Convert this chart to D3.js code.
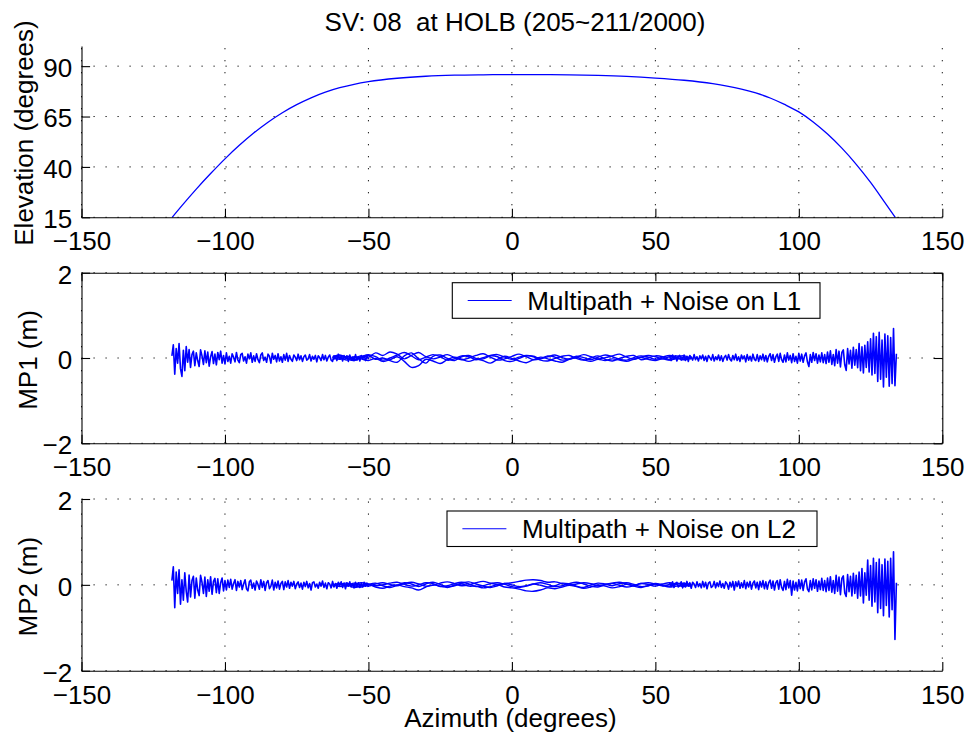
<!DOCTYPE html>
<html>
<head>
<meta charset="utf-8">
<script src="https://cdn.jsdelivr.net/npm/d3@7"></script>
<style>
  body { margin: 0; background: #fff; }
  svg { font-family: "Liberation Sans", Arial, Helvetica, sans-serif; }
</style>
</head>
<body>
<script>
const xTicks = [-150, -100, -50, 0, 50, 100, 150];
const elTicks = [15, 40, 65, 90];
const mpTicks = [-2, 0, 2];

// elevation vs azimuth
const elAz = [-118.4, -115, -110, -105, -100, -95, -90, -85, -80, -75, -70, -65, -60, -55, -50, -40, -30, -20, -10, 0,
              10, 20, 30, 40, 50, 60, 70, 75, 80, 85, 90, 95, 100, 105, 110, 115, 120, 125, 130, 133.6];
const elDeg = [15, 20.8, 29, 36.7, 44, 50.7, 56.8, 62.2, 66.9, 70.9, 74.3, 77.1, 79.3, 81, 82.3, 84, 85, 85.5, 85.7, 85.8,
               85.8, 85.7, 85.4, 84.9, 84.1, 83, 81.3, 80.1, 78.6, 76.7, 74.2, 71, 67.3, 62.3, 56.3, 49.3, 41.3, 32.3, 22.3, 15];

// MP1: noisy arc ends (0.5 deg samples) and the overlapping daily passes (2.5 deg samples)
const mp1Left = [0.05, 0.31, -0.38, 0.22, -0.12, 0.34, -0.25, -0.43, 0.18, -0.3, 0.27, -0.1,
  0.2, -0.22, 0.08, 0.16, -0.18, 0.12, -0.06, -0.2, 0.19, 0.05, -0.15, 0.17, -0.11, 0.14, -0.19, 0.03,
  0.15, -0.13, 0.09, -0.16, 0.13, -0.04, 0.16, -0.12, 0.06, -0.14,
  0.12, -0.08, 0.04, -0.12, 0.1, 0.02, -0.09, 0.13, -0.05, -0.11,
  0.08, 0.11, -0.07, 0.03, -0.12, 0.09, -0.02, 0.12, -0.1, 0.05,
  -0.08, 0.1, -0.04, -0.11, 0.07, 0.12, -0.06, 0.02, -0.1, 0.09,
  0.04, -0.12, 0.11, -0.03, 0.06, -0.09, 0.1, -0.07, 0.03, -0.1,
  0.08, -0.05, 0.11, -0.08,
  0.06, -0.03, -0.08, 0.07, 0.02, -0.06, 0.09, -0.04, 0.05, -0.08,
  0.03, 0.07, -0.05, -0.02, 0.08, -0.07, 0.04, -0.03, 0.06, -0.09,
  0.05, 0.01, -0.06, 0.08, -0.04, 0.06, -0.07, 0.02, 0.07, -0.05,
  -0.08, 0.05, 0.03, -0.06, 0.09, -0.03, 0.04, -0.07, 0.06, -0.02,
  0.05, -0.08, 0.07, -0.04, 0.02, -0.06, 0.08, -0.05, 0.03, -0.07,
  0.06, -0.03, 0.05, -0.06, 0.04, -0.02];
const mp1Right = [0.04, -0.06, 0.07, -0.02, 0.05, -0.07, 0.03, 0.06, -0.05, -0.03,
  0.07, -0.06, 0.04, -0.08, 0.06, 0.02, -0.05, 0.08, -0.04, 0.03,
  -0.07, 0.05, -0.02, 0.07, -0.06, 0.04, -0.08, 0.06, 0.01, -0.05,
  0.08, -0.07, 0.03, -0.04, 0.07, -0.06, 0.05, -0.08, 0.02, 0.06,
  -0.05, 0.08, -0.03, -0.07, 0.06, -0.04, 0.09, -0.06, 0.03, -0.08,
  0.07, -0.02, 0.05, -0.09, 0.08, -0.05, 0.04, -0.07, 0.09, -0.03,
  -0.06, 0.08, -0.08, 0.05, -0.04, 0.09, -0.07, 0.06, -0.09, 0.04,
  0.1, -0.06, 0.08, -0.1, 0.03, 0.09, -0.08, 0.11, -0.04, -0.1,
  0.07, -0.09, 0.12, -0.05, 0.06, -0.11, 0.1, -0.08, 0.04, -0.12,
  0.11, -0.07, 0.09, -0.1, 0.05, 0.12, -0.09, -0.2, 0.08, -0.1,
  0.13, -0.06, 0.1, -0.12, 0.07, -0.09, 0.12, -0.11, 0.08, -0.13,
  0.14, -0.1, 0.17, -0.15, 0.08, -0.18, 0.2, -0.12, 0.16, -0.21,
  0.13, 0.19, -0.16, -0.29, 0.22, -0.14, 0.18, -0.24, 0.25, -0.17, 0.2, -0.23,
  0.34, -0.3, 0.26, -0.35, 0.3, -0.22, 0.38, -0.33, 0.45, -0.4,
  0.58, -0.36, 0.5, -0.55, 0.6, -0.5, 0.42, -0.68, 0.56, -0.45,
  0.52, -0.66, 0.48, -0.6, 0.69, -0.65, 0.1];
const mp1PassA = [0.02, -0.03, 0.04, 0.0, 0.05, 0.02, 0.12, 0.06, 0.14, 0.09,
  -0.02, 0.06, 0.13, 0.03, -0.02, 0.02, 0.08, 0.01, -0.04, 0.0,
  0.06, 0.1, 0.02, -0.05, -0.02, 0.04, 0.09, 0.03, -0.04, -0.02,
  0.03, 0.07, 0.01, -0.03, 0.02, 0.08, 0.03, -0.02, 0.01, 0.05,
  0.09, 0.02, -0.03, 0.02, 0.06, 0.03, -0.02, 0.03, 0.05, 0.0, 0.04];
const mp1PassB = [-0.04, 0.01, -0.05, 0.03, -0.02, -0.06, -0.01, -0.08, -0.04, 0.03,
  -0.08, -0.22, -0.18, -0.03, -0.07, -0.13, -0.04, 0.02, -0.03, -0.08,
  -0.03, -0.06, -0.12, -0.03, 0.04, -0.01, -0.07, -0.11, -0.04, 0.02,
  -0.02, -0.07, -0.1, -0.03, 0.01, -0.04, -0.08, -0.03, -0.06, -0.02,
  -0.05, -0.08, -0.03, 0.01, -0.03, -0.06, -0.02, -0.05, -0.01, -0.04, 0.0];
const mp1PassC = [0.0, 0.05, -0.02, -0.06, 0.01, 0.06, -0.03, 0.0, -0.06, -0.1,
  0.05, 0.12, -0.02, -0.12, 0.04, 0.07, -0.01, -0.06, 0.03, 0.06,
  -0.01, -0.02, 0.05, 0.03, -0.06, -0.08, -0.01, 0.05, 0.03, -0.05,
  -0.07, -0.01, 0.04, 0.06, -0.01, -0.05, 0.0, 0.05, -0.03, -0.07,
  -0.01, 0.04, 0.06, -0.04, 0.0, 0.05, 0.03, -0.04, 0.02, 0.05, -0.03];
const mp1PassD = [0.03, 0.07, 0.01, -0.04, 0.03, 0.08, 0.03, -0.05, 0.0, 0.07,
  0.13, 0.05, -0.04, 0.02, 0.08, 0.03, -0.05, -0.02, 0.05, 0.03,
  -0.04, 0.01, 0.06, 0.08, 0.02, -0.03, 0.02, 0.06, 0.04, -0.01,
  0.05, 0.02, -0.05, -0.02, 0.04, 0.01, -0.04, 0.02, 0.07, 0.03,
  -0.03, -0.05, 0.01, 0.05, 0.02, -0.03, 0.02, 0.06, 0.01, -0.03, 0.02];

// MP2, same sampling
const mp2Left = [0.1, 0.42, -0.53, 0.3, -0.2, 0.35, -0.45, 0.12, -0.36, 0.28, -0.15, -0.4,
  0.23, -0.28, 0.1, 0.2, -0.31, 0.16, -0.12, -0.25, 0.22, 0.06, -0.2, 0.18, -0.27, 0.12, -0.15, 0.19,
  -0.22, 0.08, 0.15, -0.18, 0.14, -0.2, 0.05, 0.16, -0.14, 0.1,
  -0.12, 0.11, -0.06, 0.13, -0.1, 0.03, 0.12, -0.13, 0.08, -0.05,
  0.1, -0.11, 0.02, 0.12, -0.09, -0.14, 0.07, 0.11, -0.08, 0.04,
  -0.12, 0.09, 0.01, -0.1, 0.12, -0.06, 0.08, -0.13, 0.05, 0.1,
  -0.09, -0.03, 0.11, -0.12, 0.06, -0.07, 0.09, -0.1, 0.03, 0.08,
  -0.11, 0.07, -0.05, 0.1,
  -0.08, 0.06, -0.03, 0.08, -0.09, 0.02, 0.07, -0.06, 0.04, -0.1,
  0.06, -0.04, 0.08, -0.07, 0.03, -0.12, 0.05, 0.07, -0.05, 0.02,
  -0.08, 0.06, -0.03, 0.09, -0.06, 0.04, -0.09, 0.05, 0.02, -0.07,
  0.08, -0.05, 0.03, -0.08, 0.06, -0.02, 0.07, -0.06, 0.04, -0.09,
  0.05, -0.03, 0.07, -0.05, 0.02, -0.07, 0.06, -0.04, 0.05, -0.06,
  0.03, -0.05, 0.06, -0.03, 0.04, -0.05];
const mp2Right = [0.05, -0.04, 0.07, -0.06, 0.03, 0.06, -0.05, -0.02, 0.07, -0.07,
  0.04, -0.05, 0.08, -0.03, 0.05, -0.08, 0.06, 0.02, -0.06, 0.07,
  -0.04, 0.03, -0.07, 0.08, -0.05, 0.06, -0.09, 0.04, 0.07, -0.06,
  -0.03, 0.08, -0.07, 0.05, -0.04, 0.09, -0.06, 0.03, -0.08, 0.07,
  0.02, -0.1, 0.06, -0.05, 0.08, -0.12, 0.07, -0.04, 0.09, -0.08,
  0.05, -0.06, 0.1, -0.09, 0.06, -0.05, 0.08, -0.1, 0.04, 0.09,
  -0.07, 0.06, -0.11, 0.08, -0.05, 0.1, -0.09, 0.07, -0.1, 0.05,
  0.11, -0.08, 0.09, -0.12, 0.05, 0.1, -0.1, 0.12, -0.06, -0.13,
  0.08, -0.11, 0.13, -0.07, 0.1, -0.24, 0.09, -0.12, 0.06, -0.14,
  0.12, -0.09, 0.11, -0.13, 0.07, 0.14, -0.1, -0.16, 0.1, -0.12,
  0.14, -0.08, 0.12, -0.15, 0.09, -0.11, 0.15, -0.13, 0.1, -0.16,
  0.16, -0.13, 0.19, -0.17, 0.1, -0.2, 0.22, -0.15, 0.18, -0.23,
  0.15, 0.21, -0.19, -0.27, 0.24, -0.16, 0.2, -0.26, 0.27, -0.2, 0.22, -0.31,
  0.3, -0.26, 0.38, -0.42, 0.28, -0.24, 0.58, -0.36, 0.45, -0.5,
  0.62, -0.4, 0.52, -0.65, 0.6, -0.55, 0.47, -0.72, 0.6, -0.48,
  0.55, -0.75, 0.62, -0.58, 0.77, -1.27, 0.05];
const mp2PassA = [-0.02, 0.03, -0.01, 0.04, 0.0, -0.03, 0.02, 0.05, 0.01, -0.02,
  0.03, 0.06, 0.02, -0.03, -0.01, 0.04, 0.07, 0.03, -0.02, 0.0,
  0.05, 0.08, 0.04, 0.01, 0.03, 0.05, 0.08, 0.11, 0.12, 0.1,
  0.06, 0.07, 0.03, -0.01, 0.02, 0.05, 0.03, -0.02, 0.01, 0.04,
  0.06, 0.02, -0.01, 0.03, 0.05, 0.02, -0.02, 0.01, 0.04, 0.02, -0.01];
const mp2PassB = [0.02, -0.04, 0.0, -0.06, -0.02, 0.01, -0.05, -0.08, -0.03, 0.0,
  -0.04, -0.07, -0.12, -0.05, 0.0, -0.03, -0.06, -0.02, 0.02, -0.03,
  -0.03, -0.07, -0.04, 0.0, -0.05, -0.07, -0.1, -0.14, -0.15, -0.12,
  -0.07, -0.09, -0.05, -0.01, -0.04, -0.08, -0.05, 0.0, -0.03, -0.07,
  -0.04, 0.01, -0.03, -0.06, -0.02, 0.02, -0.02, -0.05, -0.03, 0.0, -0.04];
const mp2PassC = [0.0, 0.02, -0.03, 0.01, 0.05, 0.02, -0.02, 0.0, 0.04, 0.06,
  0.01, -0.03, 0.0, 0.05, 0.03, -0.04, -0.02, 0.03, 0.06, 0.02,
  -0.04, -0.02, 0.03, 0.05, 0.01, -0.04, -0.06, -0.03, 0.02, 0.05,
  0.01, -0.04, -0.02, 0.03, 0.06, 0.02, -0.03, -0.05, 0.0, 0.03,
  -0.01, -0.05, -0.02, 0.03, 0.01, -0.03, 0.02, 0.05, 0.0, -0.04, 0.02];
const mp2PassD = [-0.03, 0.01, 0.04, -0.02, -0.05, 0.01, 0.04, -0.02, -0.06, -0.01,
  0.05, 0.02, -0.04, 0.02, 0.06, 0.01, -0.05, -0.01, 0.04, 0.07,
  0.02, -0.03, -0.06, -0.02, 0.03, 0.0, -0.04, -0.02, 0.02, -0.01,
  -0.05, -0.02, 0.04, 0.02, -0.03, -0.06, 0.0, 0.04, 0.02, -0.02,
  0.03, 0.05, 0.01, -0.04, -0.02, 0.03, 0.0, -0.03, 0.02, 0.04, 0.0];

// sample grids: [first azimuth, step]
const gridLeft = [-118.5, 0.5], gridRight = [55, 0.5], gridPass = [-62.5, 2.5];

function onGrid(grid, vals) {
  return vals.map((v, i) => [grid[0] + i * grid[1], v]);
}

const W = 969, H = 733;
const blue = '#0000ff';
const font = '"Liberation Sans", Arial, Helvetica, sans-serif';
const fs = 26;
const tick = 8.6;

let svg = d3.select('body').append('svg')
  .attr('width', W)
  .attr('height', H)
  .style('background-color', 'white');

let x = d3.scaleLinear().domain([-150, 150]).range([81.5, 942.3]);

const panels = [
  { y: d3.scaleLinear().domain([15, 100]).range([217.3, 46]), yTicks: elTicks, box: false,
    label: 'Elevation (degrees)', labelX: 33.3, labelY: 133 },
  { y: d3.scaleLinear().domain([-2, 2]).range([443.3, 272.7]), yTicks: mpTicks, box: true,
    label: 'MP1 (m)', labelX: 37.3, labelY: 360,
    legend: 'Multipath + Noise on L1', lg: [452.3, 282.7, 367.7, 35.6] },
  { y: d3.scaleLinear().domain([-2, 2]).range([670.7, 499]), yTicks: mpTicks, box: false,
    label: 'MP2 (m)', labelX: 37.3, labelY: 586.7,
    legend: 'Multipath + Noise on L2', lg: [447, 511, 370, 35.5] }
];

const smooth = d3.curveCatmullRom;
panels[0].series = [ { pts: elAz.map((a, i) => [a, elDeg[i]]), curve: d3.curveMonotoneX, w: 1.3 } ];
panels[1].series = [
  { pts: onGrid(gridLeft, mp1Left) }, { pts: onGrid(gridRight, mp1Right) },
  { pts: onGrid(gridPass, mp1PassA), curve: smooth, w: 1.4 }, { pts: onGrid(gridPass, mp1PassB), curve: smooth, w: 1.4 },
  { pts: onGrid(gridPass, mp1PassC), curve: smooth, w: 1.4 }, { pts: onGrid(gridPass, mp1PassD), curve: smooth, w: 1.4 }
];
panels[2].series = [
  { pts: onGrid(gridLeft, mp2Left) }, { pts: onGrid(gridRight, mp2Right) },
  { pts: onGrid(gridPass, mp2PassA), curve: smooth, w: 1.4 }, { pts: onGrid(gridPass, mp2PassB), curve: smooth, w: 1.4 },
  { pts: onGrid(gridPass, mp2PassC), curve: smooth, w: 1.4 }, { pts: onGrid(gridPass, mp2PassD), curve: smooth, w: 1.4 }
];

function styleAxis(g) {
  g.attr('font-size', fs).attr('font-family', font);
  g.selectAll('.domain').attr('stroke', '#000').attr('stroke-width', 1.1);
  g.selectAll('.tick line').attr('stroke', '#000').attr('stroke-width', 1.1);
  g.selectAll('.tick text').attr('fill', '#000');
}

panels.forEach(p => {
  let y = p.y;
  let [yb, yt] = y.range();
  let g = svg.append('g');

  let grid = g.append('g')
    .attr('stroke', '#000')
    .attr('stroke-width', 1)
    .attr('stroke-dasharray', '1.2,10.8');
  grid.selectAll('.vx').data(xTicks).enter().append('line')
    .attr('x1', d => x(d)).attr('x2', d => x(d))
    .attr('y1', yb).attr('y2', yt);
  grid.selectAll('.hy').data(p.yTicks).enter().append('line')
    .attr('x1', x.range()[0]).attr('x2', x.range()[1])
    .attr('y1', d => y(d)).attr('y2', d => y(d));

  p.series.forEach(s => {
    g.append('path')
      .datum(s.pts)
      .attr('fill', 'none')
      .attr('stroke', blue)
      .attr('stroke-width', s.w || 1.6)
      .attr('stroke-linejoin', 'round')
      .attr('d', d3.line().x(d => x(d[0])).y(d => y(d[1])).curve(s.curve || d3.curveLinear));
  });

  if (p.legend) {
    let [lx, ly, lw, lh] = p.lg;
    let lgd = g.append('g');
    lgd.append('rect')
      .attr('x', lx).attr('y', ly).attr('width', lw).attr('height', lh)
      .attr('fill', 'white').attr('stroke', '#000').attr('stroke-width', 1.1);
    lgd.append('line')
      .attr('x1', lx + 15.4).attr('x2', lx + 59.4)
      .attr('y1', ly + lh / 2).attr('y2', ly + lh / 2)
      .attr('stroke', blue).attr('stroke-width', 1);
    lgd.append('text')
      .attr('x', lx + 75).attr('y', ly + lh / 2 + 9)
      .attr('font-size', fs)
      .attr('fill', '#000')
      .text(p.legend);
  }

  g.append('g')
    .attr('transform', `translate(0,${yb})`)
    .call(d3.axisBottom(x).tickValues(xTicks).tickSizeInner(-tick).tickSizeOuter(0).tickPadding(14.4))
    .call(styleAxis);

  g.append('g')
    .attr('transform', `translate(${x.range()[0]},0)`)
    .call(d3.axisLeft(y).tickValues(p.yTicks).tickFormat(d3.format('d'))
      .tickSizeInner(-tick).tickSizeOuter(0).tickPadding(9.3))
    .call(styleAxis)
    .selectAll('.tick text').attr('dy', '0.4em');

  if (p.box) {
    g.append('g')
      .attr('transform', `translate(0,${yt})`)
      .call(d3.axisTop(x).tickValues(xTicks).tickSizeInner(-tick).tickSizeOuter(0).tickFormat(''))
      .call(styleAxis);
    g.append('g')
      .attr('transform', `translate(${x.range()[1]},0)`)
      .call(d3.axisRight(y).tickValues(p.yTicks).tickSizeInner(-tick).tickSizeOuter(0).tickFormat(''))
      .call(styleAxis);
  }

  g.append('text')
    .attr('transform', `translate(${p.labelX},${p.labelY}) rotate(-90)`)
    .attr('text-anchor', 'middle')
    .attr('font-size', fs)
    .attr('fill', '#000')
    .text(p.label);
});

svg.append('text')
  .attr('x', 515)
  .attr('y', 31)
  .attr('text-anchor', 'middle')
  .attr('font-size', fs)
  .attr('fill', '#000')
  .style('white-space', 'pre')
  .text('SV: 08  at HOLB (205~211/2000)');

svg.append('text')
  .attr('x', 510.5)
  .attr('y', 727)
  .attr('text-anchor', 'middle')
  .attr('font-size', fs)
  .attr('fill', '#000')
  .text('Azimuth (degrees)');
</script>
</body>
</html>
